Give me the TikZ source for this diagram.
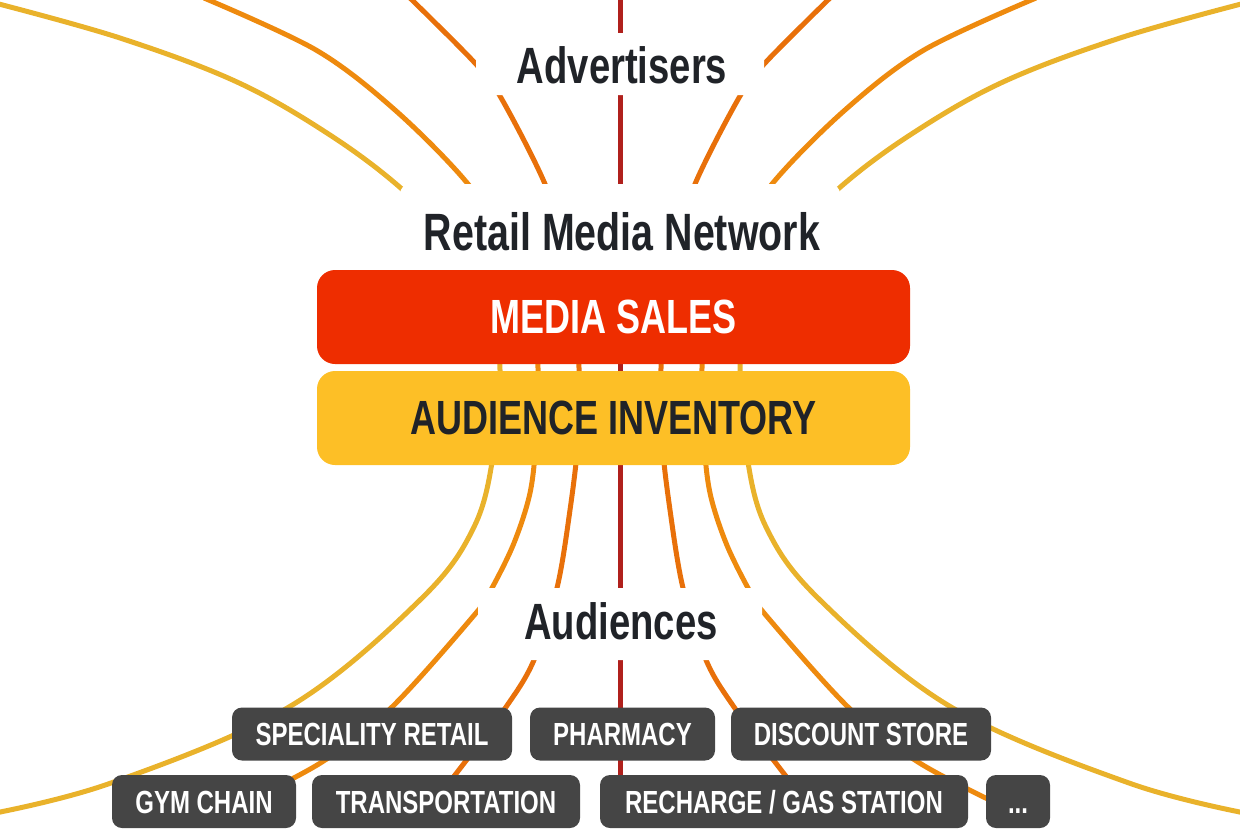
\documentclass[tikz,border=0pt]{standalone}
\usepackage{fontspec}
\newfontfamily\cond[FakeStretch=0.75]{Liberation Sans}
\definecolor{cA}{HTML}{E9B22B}
\definecolor{cB}{HTML}{EE8A0E}
\definecolor{cC}{HTML}{E8700A}
\definecolor{cD}{HTML}{B0201C}
\definecolor{redbox}{HTML}{EE2D00}
\definecolor{yelbox}{HTML}{FDBF26}
\definecolor{tagbg}{HTML}{454545}
\definecolor{ink}{HTML}{202328}
\begin{document}
\begin{tikzpicture}[x=1pt,y=-1pt,
  flowline/.style={line width=5pt},
  mask/.style={fill=white, rounded corners=10pt},
  headlbl/.style={inner sep=0pt, text=ink, font=\cond\bfseries\fontsize{51}{56}\selectfont},
  bandbox/.style={rounded corners=18pt, minimum width=593pt, minimum height=94pt, inner sep=0pt, font=\cond\bfseries\fontsize{48}{52}\selectfont},
  tagbox/.style={fill=tagbg, rounded corners=10pt, text=white, minimum height=53pt, inner sep=0pt, text height=23pt, text depth=0pt, font=\cond\bfseries\fontsize{32}{36}\selectfont}]
\useasboundingbox (0,0) rectangle (1240,830);
\clip (0,0) rectangle (1240,830);
% flow curves
\begin{scope}[shift={(620,0)}]
\foreach \s in {1,-1}{
 \begin{scope}[xscale=\s]
  \draw[flowline,cA] plot[smooth,tension=0.6] coordinates {(-625,3) (-500,38) (-383,82) (-290,135) (-217,190) (-160,250) (-128,310) (-120,370) (-126,450) (-146,527) (-200,600) (-331,707) (-509,783) (-630,814)};
  \draw[flowline,cB] plot[smooth,tension=0.55] coordinates {(-416,-2) (-304,50) (-225,110) (-152,184) (-110,250) (-88,310) (-82,368) (-84,440) (-90,493) (-106,543) (-128,588) (-144,613) (-229,708) (-298,762) (-380,805)};
  \draw[flowline,cC] plot[smooth,tension=0.55] coordinates {(-210,-2) (-146,62) (-120,96) (-75,184) (-55,250) (-44,310) (-41,368) (-42,440) (-50,510) (-63,588) (-86,660) (-114,707) (-165,775) (-190,805)};
 \end{scope}}
\draw[flowline,cD] (0,-5) -- (0,815);
\end{scope}
% white masks behind labels
\fill[mask] (476,33) rectangle (764,95);
\fill[mask] (400,184) rectangle (840,272);
\fill[mask] (478,588) rectangle (762,660);
% labels
\node[headlbl] (adv) at (622,65) {Advertisers};
\node[headlbl, font=\cond\bfseries\fontsize{52.5}{56}\selectfont] (rmn) at (622,232) {Retail Media Network};
\node[headlbl] (aud) at (621,621) {Audiences};
% bands
\node[bandbox, fill=redbox, text=white] (sales) at (613.5,317) {MEDIA SALES};
\node[bandbox, fill=yelbox, text=ink] (inv) at (613.5,418) {AUDIENCE INVENTORY};
% tags
\node[tagbox, minimum width=280pt] (spec) at (372,734) {SPECIALITY RETAIL};
\node[tagbox, minimum width=185pt] (pharm) at (622.5,734) {PHARMACY};
\node[tagbox, minimum width=260pt] (disc) at (861,734) {DISCOUNT STORE};
\node[tagbox, minimum width=184pt] (gym) at (204,801.5) {GYM CHAIN};
\node[tagbox, minimum width=268pt] (trans) at (446,801.5) {TRANSPORTATION};
\node[tagbox, minimum width=368pt] (gas) at (784,801.5) {RECHARGE / GAS STATION};
\node[tagbox, minimum width=64pt] (more) at (1018,801.5) {...};
\end{tikzpicture}
\end{document}
